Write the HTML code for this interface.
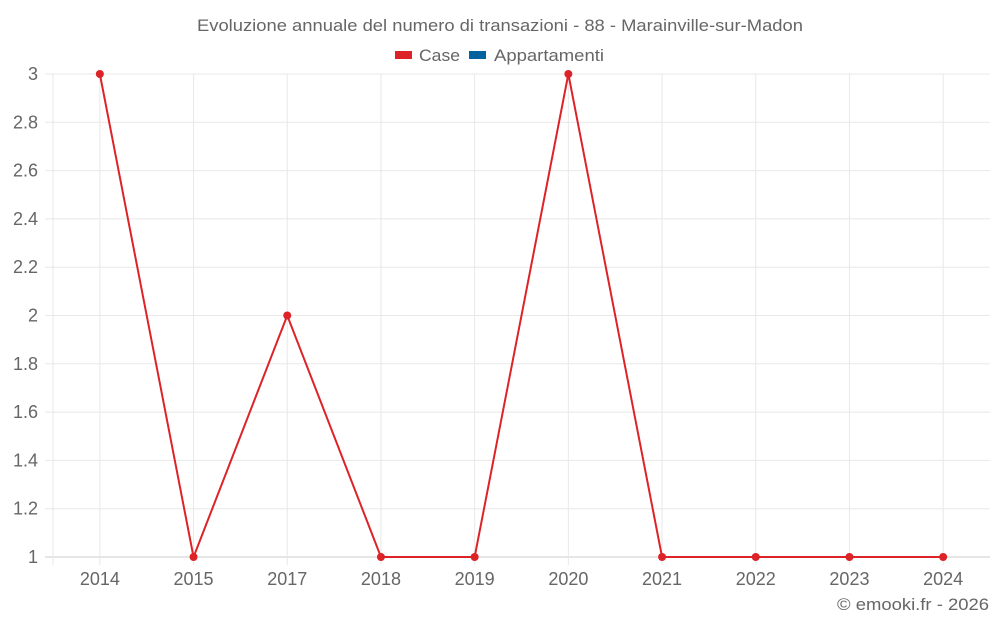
<!DOCTYPE html>
<html><head><meta charset="utf-8"><style>
body{margin:0;background:#fff;font-family:"Liberation Sans",sans-serif}
svg text{font-family:"Liberation Sans",sans-serif;fill:#666}
</style></head><body>
<svg width="1000" height="625" id="c">
<text x="197" y="31" font-size="17" textLength="606" lengthAdjust="spacingAndGlyphs">Evoluzione annuale del numero di transazioni - 88 - Marainville-sur-Madon</text>
<g>
<rect x="395" y="51" width="17" height="8" fill="#dc2328"/>
<text x="419" y="61" font-size="17" textLength="41" lengthAdjust="spacingAndGlyphs">Case</text>
<rect x="469" y="51" width="17" height="8" fill="#0063a0"/>
<text x="494" y="61" font-size="17" textLength="110" lengthAdjust="spacingAndGlyphs">Appartamenti</text>
</g>
<g id="grid"></g><g id="marks"></g>
<text x="837" y="610" font-size="17" textLength="152" lengthAdjust="spacingAndGlyphs">© emooki.fr - 2026</text>
</svg>
<script>
const categories=["2014","2015","2017","2018","2019","2020","2021","2022","2023","2024"];
const caseValues=[3,1,2,1,1,3,1,1,1,1];
const yTicks=[1,1.2,1.4,1.6,1.8,2,2.2,2.4,2.6,2.8,3];
const L=53,R=990,T=74,B=557,yMin=1,yMax=3;
const bw=(R-L)/categories.length;
const xs=i=>L+bw*(i+0.5);
const ys=v=>B-(v-yMin)/(yMax-yMin)*(B-T);
const NS="http://www.w3.org/2000/svg";
const g=document.getElementById('grid'),m=document.getElementById('marks');
function mk(t,a,p){const e=document.createElementNS(NS,t);for(const k in a)e.setAttribute(k,a[k]);p.appendChild(e);return e;}
yTicks.forEach(v=>{
const ln=mk('line',{x1:45,x2:R,y1:ys(v),y2:ys(v),stroke:v===yMin?'#ccc':'#e8e8e8'},g);


const t=mk('text',{x:38,y:ys(v)+6,'text-anchor':'end','font-size':18},g);
t.textContent=String(v);


});
const ax=mk('line',{x1:L,x2:L,y1:T,y2:B+8,stroke:'#e8e8e8'},g);


categories.forEach((c,i)=>{
const ln=mk('line',{x1:xs(i),x2:xs(i),y1:T,y2:B+8,stroke:'#e8e8e8'},g);


const t=mk('text',{x:xs(i),y:585,'text-anchor':'middle','font-size':18},g);
t.textContent=c;


});
const pl=mk('polyline',{points:caseValues.map((v,i)=>xs(i)+','+ys(v)).join(' '),fill:'none',stroke:'#dc2328','stroke-width':2},m);


caseValues.forEach((v,i)=>{
const c=mk('circle',{cx:xs(i),cy:ys(v),r:4,fill:'#dc2328'},m);


});
</script>
</body></html>
